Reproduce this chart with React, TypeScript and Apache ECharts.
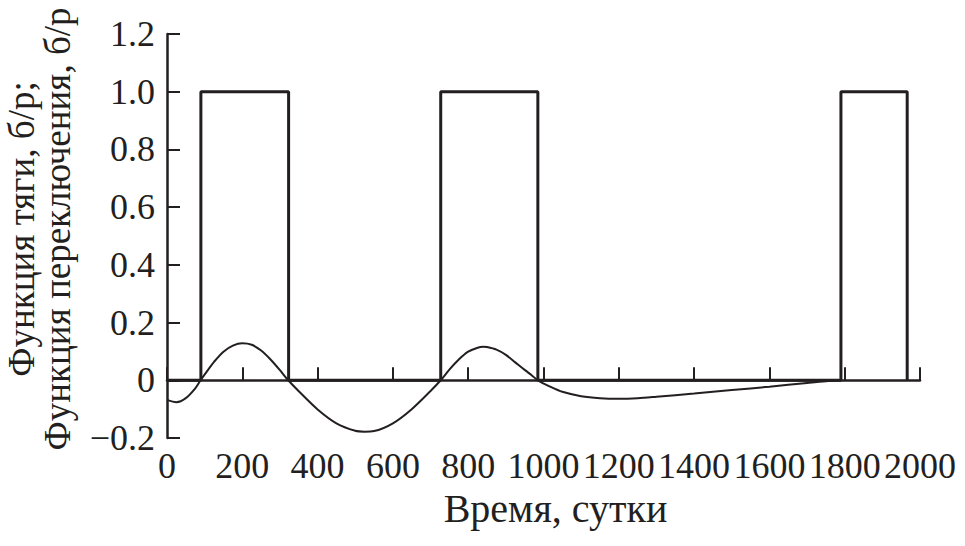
import React, { useEffect, useRef } from "react";
import * as echarts from "echarts";

// Switching function (rectangular pulses)
const switchX = [0, 90, 90, 323, 323, 727, 727, 985, 985, 1790, 1790, 1966, 1966];
const switchY = [0, 0, 1, 1, 0, 0, 1, 1, 0, 0, 1, 1, 0];

// Thrust function (smooth curve)
const thrustX = [
  0, 25, 50, 75, 89, 110, 125, 150, 175, 200, 225, 250, 275, 300, 322,
  350, 400, 450, 500, 525, 550, 600, 650, 700, 727, 750, 775, 800, 825, 840,
  850, 875, 900, 925, 950, 970, 985, 1016, 1050, 1100, 1150, 1200, 1250, 1300,
  1400, 1500, 1600, 1700, 1750, 1790,
];
const thrustY = [
  -0.068, -0.076, -0.062, -0.028, 0.0, 0.038, 0.064, 0.099, 0.12, 0.128, 0.123, 0.103, 0.072, 0.035, 0.0,
  -0.038, -0.101, -0.149, -0.175, -0.178, -0.176, -0.149, -0.1, -0.037, 0.0, 0.037, 0.072, 0.099, 0.113, 0.116,
  0.115, 0.106, 0.088, 0.062, 0.036, 0.016, 0.0, -0.021, -0.04, -0.055, -0.062, -0.064, -0.062, -0.057,
  -0.046, -0.034, -0.022, -0.009, -0.003, 0.0,
];

const xTicks = [0, 200, 400, 600, 800, 1000, 1200, 1400, 1600, 1800, 2000];
const yTickLabels: Record<string, string> = {
  "-0.2": "\u22120.2",
  "0": "0",
  "0.2": "0.2",
  "0.4": "0.4",
  "0.6": "0.6",
  "0.8": "0.8",
  "1": "1.0",
  "1.2": "1.2",
};

const xTitle = "Время, сутки";
const yTitle = "Функция тяги, б/р;\nФункция переключения, б/р";

const INK = "#231f20";
const FONT = "'Liberation Serif', 'Times New Roman', serif";

export default function App() {
  const ref = useRef<HTMLDivElement>(null);
  useEffect(() => {
    document.body.style.margin = "0";
    if (!ref.current) return;
    const chart = echarts.init(ref.current, undefined, { renderer: "svg" });
    const sw = switchX.map((x, i) => [x, switchY[i]]);
    const th = thrustX.map((x, i) => [x, thrustY[i]]);
    chart.setOption({
      animation: false,
      backgroundColor: "#ffffff",
      grid: { left: 167, right: 45, top: 34, bottom: 108, containLabel: false, outerBoundsMode: "none" },
      xAxis: {
        type: "value",
        min: xTicks[0],
        max: xTicks[xTicks.length - 1],
        interval: 200,
        name: xTitle,
        nameLocation: "middle",
        nameGap: 44,
        nameTextStyle: { fontFamily: FONT, fontSize: 40, color: INK, padding: [0, 0, 0, 24] },
        axisLine: { show: true, lineStyle: { color: INK, width: 2.5 } },
        axisTick: { show: true, inside: true, length: 13, lineStyle: { color: INK, width: 2 } },
        axisLabel: {
          fontFamily: FONT,
          fontSize: 36,
          color: INK,
          margin: 10,
          showMaxLabel: true,
          formatter: (v: number) => String(v),
        },
        splitLine: { show: false },
      },
      yAxis: {
        type: "value",
        min: -0.2,
        max: 1.2,
        interval: 0.2,
        name: yTitle,
        nameLocation: "middle",
        nameRotate: 90,
        nameGap: 92,
        nameTextStyle: { fontFamily: FONT, fontSize: 37, color: INK, lineHeight: 36, padding: [0, 0, 0, 14] },
        axisLine: { show: true, lineStyle: { color: INK, width: 2.5 } },
        axisTick: { show: true, inside: true, length: 13, lineStyle: { color: INK, width: 2 } },
        axisLabel: {
          fontFamily: FONT,
          fontSize: 36,
          color: INK,
          margin: 12,
          formatter: (v: number) => {
            const k = String(Math.round(v * 10) / 10);
            return yTickLabels[k] ?? k;
          },
        },
        splitLine: { show: false },
      },
      series: [
        {
          type: "line",
          data: sw,
          showSymbol: false,
          symbol: "none",
          lineStyle: { color: INK, width: 3 },
          z: 3,
        },
        {
          type: "line",
          data: th,
          showSymbol: false,
          symbol: "none",
          smooth: 0.3,
          lineStyle: { color: INK, width: 2 },
          z: 2,
        },
      ],
    });
    return () => chart.dispose();
  }, []);
  return <div ref={ref} style={{ width: 965, height: 546 }} />;
}
